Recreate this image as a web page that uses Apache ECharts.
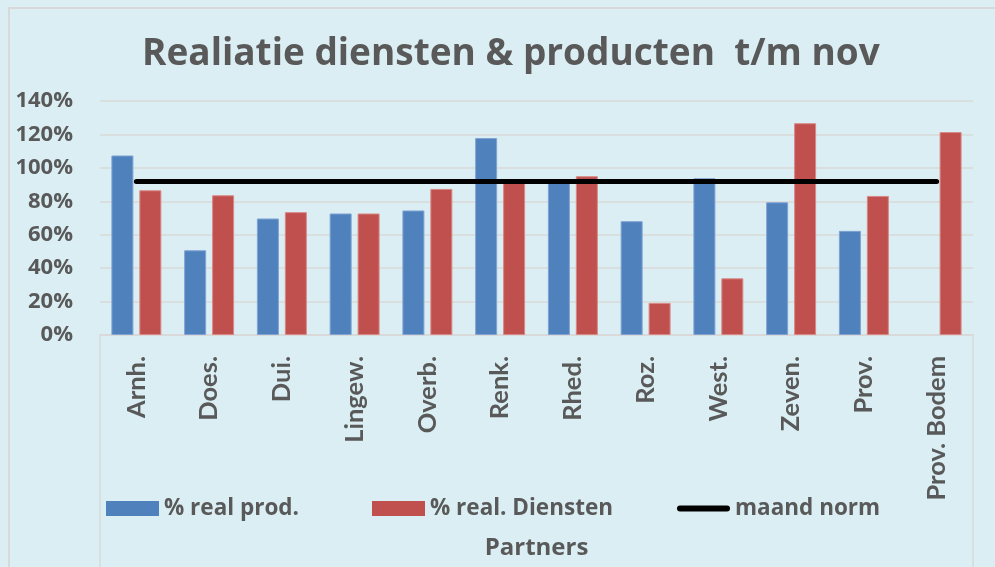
<!DOCTYPE html>
<html>
<head>
<meta charset="utf-8">
<script src="https://cdn.jsdelivr.net/npm/echarts@6/dist/echarts.min.js"></script>
<style>
  html, body { margin: 0; padding: 0; background: #fff; }
  #chart { width: 995px; height: 567px; }
</style>
</head>
<body>
<div id="chart"></div>
<script>
// partners on the category axis
const partners = ['Arnh.', 'Does.', 'Dui.', 'Lingew.', 'Overb.', 'Renk.', 'Rhed.', 'Roz.', 'West.', 'Zeven.', 'Prov.', 'Prov. Bodem'];
// % realisatie producten (geen waarde voor Prov. Bodem)
const realProd = [107.4, 50.7, 69.7, 72.7, 74.5, 117.8, 91, 68.1, 93.8, 79.4, 62.3, null];
// % realisatie diensten
const realDiensten = [86.6, 83.6, 73.5, 72.7, 87.4, 91, 95.0, 19.2, 33.9, 126.7, 83.2, 121.4];
// maandnorm
const maandNorm = [91.8, 91.8, 91.8, 91.8, 91.8, 91.8, 91.8, 91.8, 91.8, 91.8, 91.8, 91.8];

const txt = '#595959';
const wide = 'Open Sans';
const narrow = 'Lato';

let myChart = echarts.init(document.getElementById('chart'));

const legendText = {
    color: txt,
    fontFamily: wide,
    fontWeight: 'bold',
    fontSize: 22.5
};

const option = {
    backgroundColor: '#DAEEF3',
    animation: false,
    title: {
        text: 'Realiatie diensten & producten  t/m nov',
        left: 142,
        top: 36,
        padding: 0,
        textStyle: {
            color: txt,
            fontFamily: wide,
            fontWeight: 'bold',
            fontSize: 37
        }
    },
    grid: {
        left: 100,
        right: 22,
        top: 101,
        bottom: 232
    },
    // drie losse legenda's zodat elk item op z'n eigen plek staat
    legend: [
        {
            left: 106,
            top: 497,
            padding: 0,
            itemWidth: 53,
            itemHeight: 15,
            textStyle: legendText,
            data: [{ name: '% real prod.', icon: 'rect', itemStyle: { borderWidth: 0 } }]
        },
        {
            left: 372,
            top: 497,
            padding: 0,
            itemWidth: 53,
            itemHeight: 15,
            textStyle: legendText,
            data: [{ name: '% real. Diensten', icon: 'rect', itemStyle: { borderWidth: 0 } }]
        },
        {
            left: 677,
            top: 497,
            padding: 0,
            itemWidth: 53,
            itemHeight: 15,
            textStyle: legendText,
            data: [{
                name: 'maand norm',
                icon: 'path://M3,0 L50,0 A3,3 0 0 1 50,6 L3,6 A3,3 0 0 1 3,0 Z',
                itemStyle: { color: '#000' }
            }]
        }
    ],
    xAxis: {
        type: 'category',
        data: partners,
        name: 'Partners',
        nameLocation: 'middle',
        nameGap: 201,
        nameTextStyle: {
            color: txt,
            fontFamily: wide,
            fontWeight: 'bold',
            fontSize: 24
        },
        axisLine: { lineStyle: { color: '#D9D9D9', width: 1.5 } },
        axisTick: { show: false },
        axisLabel: {
            rotate: 90,
            margin: 21,
            interval: 0,
            color: txt,
            fontFamily: narrow,
            fontWeight: 'bold',
            fontSize: 25.5
        }
    },
    yAxis: {
        type: 'value',
        min: 0,
        max: 140,
        interval: 20,
        axisLine: { show: false },
        axisTick: { show: false },
        splitLine: { lineStyle: { color: '#D9D9D9', width: 1.5 } },
        axisLabel: {
            formatter: '{value}%',
            margin: 27,
            color: txt,
            fontFamily: wide,
            fontWeight: 'bold',
            fontSize: 22
        }
    },
    graphic: [
        {
            // kader rond de as-labels, zoals in het origineel
            type: 'rect',
            silent: true,
            shape: { x: 100, y: 335, width: 873, height: 260 },
            style: { fill: 'none', stroke: '#D9D9D9', lineWidth: 1.5 }
        },
        {
            type: 'rect',
            silent: true,
            shape: { x: 9, y: 8, width: 1000, height: 600 },
            style: { fill: 'none', stroke: '#D9D9D9', lineWidth: 2 }
        }
    ],
    series: [
        {
            name: '% real prod.',
            type: 'bar',
            data: realProd,
            barWidth: 22,
            barGap: '27%',
            itemStyle: {
                color: '#4F81BD',
                borderColor: '#7FA3D3',
                borderWidth: 1
            }
        },
        {
            name: '% real. Diensten',
            type: 'bar',
            data: realDiensten,
            barWidth: 22,
            itemStyle: {
                color: '#C0504D',
                borderColor: '#D98886',
                borderWidth: 1
            }
        },
        {
            name: 'maand norm',
            type: 'line',
            data: maandNorm,
            z: 5,
            symbol: 'none',
            showSymbol: false,
            lineStyle: {
                color: '#000',
                width: 5,
                cap: 'round'
            },
            itemStyle: { color: '#000' }
        }
    ]
};

myChart.setOption(option);
</script>
</body>
</html>
